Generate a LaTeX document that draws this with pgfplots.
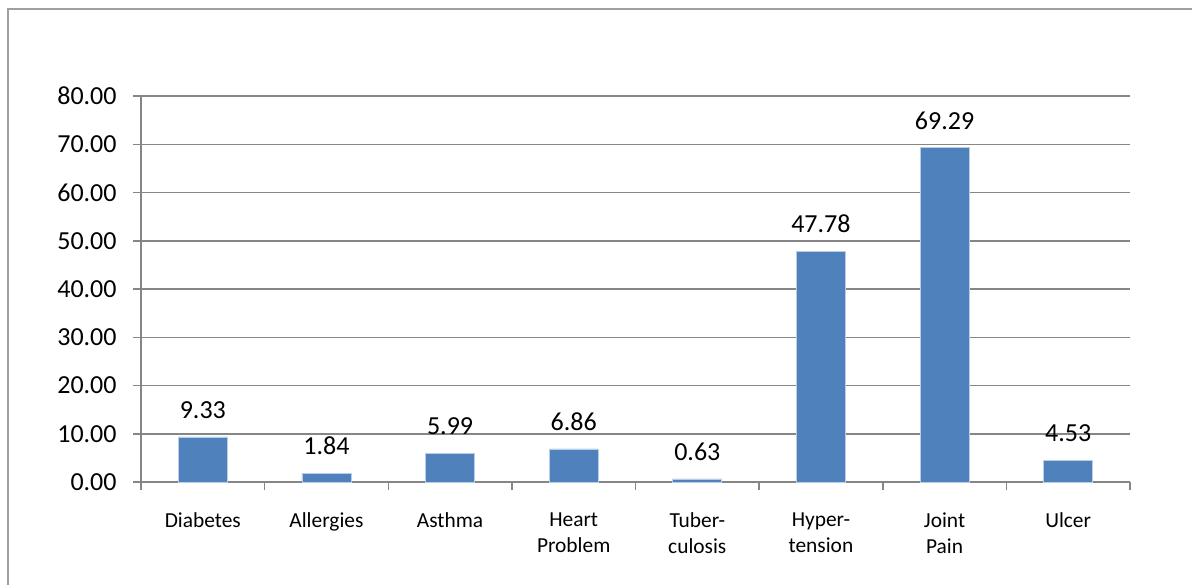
\documentclass[border=0pt]{standalone}
\usepackage{pgfplots}
\pgfplotsset{compat=1.18}
\usepackage{fontspec}
\setmainfont{Carlito}
\definecolor{barblue}{RGB}{79,129,189}
\definecolor{baredge}{RGB}{185,205,229}
\definecolor{gridgray}{RGB}{134,134,134}
\definecolor{framegray}{RGB}{160,160,160}
\begin{document}
\begin{tikzpicture}
\path[use as bounding box] (0,0) rectangle (596pt,292pt);
\draw[framegray, line width=1.1pt] (4pt,-5pt) -- (4pt,287.5pt) -- (610pt,287.5pt);
\begin{axis}[
  at={(70.5pt,51pt)}, anchor=south west,
  scale only axis, width=494.5pt, height=193pt,
  xmin=0.5, xmax=8.5, ymin=0, ymax=80,
  axis x line*=bottom, axis y line*=left,
  axis line style={gridgray, line width=0.75pt, -},
  ytick={0,10,...,80},
  ymajorgrids, grid style={gridgray, line width=0.75pt},
  tick align=outside,
  major tick length=4pt, minor tick length=4pt,
  tick style={gridgray, line width=0.75pt},
  xtick={1,...,8},
  major x tick style={draw=none},
  minor xtick={0.5,1.5,...,8.5},
  xticklabels={Diabetes, Allergies, Asthma, {Heart\\Problem}, {Tuber-\\culosis}, {Hyper-\\tension}, {Joint\\Pain}, Ulcer},
  xticklabel style={align=center, font=\fontsize{10.7}{13.3}\selectfont, inner sep=0pt, anchor=north, yshift=-11pt},
  yticklabel style={font=\fontsize{13}{15}\selectfont, inner sep=0pt, xshift=-8pt},
  /pgf/number format/assume math mode=true,
  yticklabel={\pgfmathprintnumber[fixed, fixed zerofill, precision=2]{\tick}},
  ybar, bar width=24.5pt,
  nodes near coords,
  nodes near coords style={font=\fontsize{13}{15}\selectfont, inner sep=0pt, anchor=south, yshift=9pt,
    /pgf/number format/fixed, /pgf/number format/fixed zerofill, /pgf/number format/precision=2},
  clip=false,
]
\addplot[fill=barblue, draw=baredge, line width=0.4pt] coordinates {
  (1,9.33) (2,1.84) (3,5.99) (4,6.86) (5,0.63) (6,47.78) (7,69.29) (8,4.53)
};
\end{axis}
\end{tikzpicture}
\end{document}
